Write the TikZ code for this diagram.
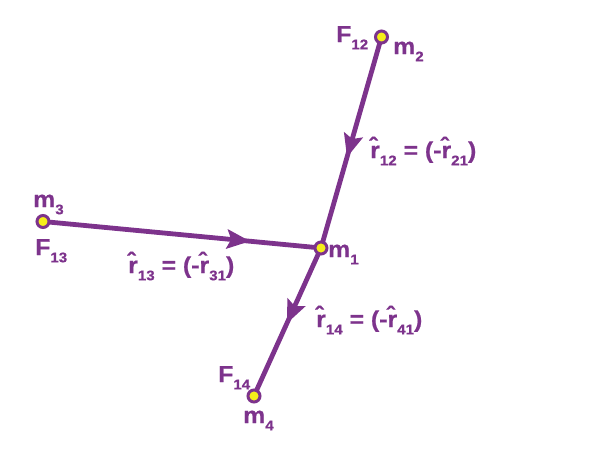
\documentclass[tikz,border=0pt]{standalone}
\usepackage{fontspec}
\setmainfont{Liberation Sans}[FakeStretch=1.08, BoldFeatures={FakeBold=0.6}]
\usetikzlibrary{arrows.meta,decorations.markings}
\definecolor{pur}{HTML}{7D338C}
\definecolor{dotyel}{HTML}{F5EE1A}
\newcommand\lsub[1]{\raisebox{-0.6ex}{\fontsize{14}{14}\selectfont #1}}
\newcommand\rhat{\^{r}}
\tikzset{
  x=1pt, y=-1pt,
  mass/.style={circle, draw=pur, line width=3pt, fill=dotyel, minimum size=12pt, inner sep=0pt},
  lbl/.style={anchor=base west, inner sep=0pt, text=pur, font=\fontsize{23}{23}\selectfont\bfseries},
  rod/.style={draw=pur, line width=4.8pt},
  midarrow/.style={postaction={decorate}, decoration={markings, mark=at position #1 with {\arrow{Stealth[length=23pt,width=19pt,inset=4pt]}}}}
}
\begin{document}
\begin{tikzpicture}
\useasboundingbox (0,0) rectangle (598,450);
\coordinate (p2) at (381.5,37);
\coordinate (p1) at (321,248);
\coordinate (p3) at (43,221.5);
\coordinate (p4) at (254,396);
\draw[rod, midarrow=0.57] (p2) -- (p1);
\draw[rod, midarrow=0.745] (p3) -- (p1);
\draw[rod, midarrow=0.51] (p1) -- (p4);
\node[mass] (m2) at (p2) {};
\node[mass] (m1) at (p1) {};
\node[mass] (m3) at (p3) {};
\node[mass] (m4) at (p4) {};
\node[lbl] (f12) at (336,42) {F\lsub{12}};
\node[lbl] (lm2) at (393,54) {m\lsub{2}};
\node[lbl] (r12) at (370,158) {\rhat\lsub{12} = (-\rhat\lsub{21})};
\node[lbl] (lm3) at (33,207) {m\lsub{3}};
\node[lbl] (f13) at (35,255) {F\lsub{13}};
\node[lbl] (r13) at (128,273) {\rhat\lsub{13} = (-\rhat\lsub{31})};
\node[lbl] (lm1) at (328,257) {m\lsub{1}};
\node[lbl] (r14) at (316,327) {\rhat\lsub{14} = (-\rhat\lsub{41})};
\node[lbl] (f14) at (218,382) {F\lsub{14}};
\node[lbl] (lm4) at (243,423) {m\lsub{4}};
\end{tikzpicture}
\end{document}
